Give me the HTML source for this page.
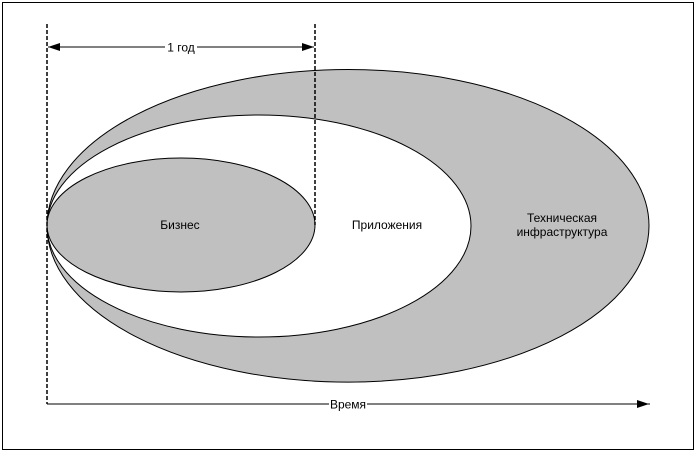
<!DOCTYPE html>
<html><head><meta charset="utf-8"><style>
body{margin:0;background:#fff}
svg{display:block}
text{font-family:"Liberation Sans",Arial,sans-serif;font-size:12px;fill:#000}
</style></head><body>
<svg width="696" height="451" viewBox="0 0 696 451" xmlns="http://www.w3.org/2000/svg">
<rect x="2.5" y="2.5" width="691" height="447" fill="#fff" stroke="#000" stroke-width="1"/>
<ellipse cx="348" cy="225.8" rx="301" ry="156.3" fill="#c0c0c0" stroke="#000" stroke-width="1"/>
<ellipse cx="259" cy="226" rx="212" ry="111" fill="#fff" stroke="#000" stroke-width="1"/>
<ellipse cx="181" cy="225" rx="134" ry="67" fill="#c0c0c0" stroke="#000" stroke-width="1"/>
<line x1="47" y1="24" x2="47" y2="404" stroke="#000" stroke-width="1.5" stroke-dasharray="4,2"/>
<line x1="315" y1="24" x2="315" y2="225" stroke="#000" stroke-width="1.5" stroke-dasharray="4,2"/>
<line x1="48" y1="47" x2="165" y2="47" stroke="#000"/>
<line x1="197" y1="47" x2="314" y2="47" stroke="#000"/>
<polygon points="48,47 60,43 60,51" fill="#000"/>
<polygon points="314,47 302,43 302,51" fill="#000"/>
<text x="181" y="51.5" text-anchor="middle">1 год</text>
<line x1="47" y1="404" x2="329" y2="404" stroke="#000"/>
<line x1="367" y1="404" x2="650" y2="404" stroke="#000"/>
<polygon points="649,404 637,400 637,408" fill="#000"/>
<text x="348" y="408.5" text-anchor="middle">Время</text>
<text x="180" y="229" text-anchor="middle">Бизнес</text>
<text x="387" y="229" text-anchor="middle">Приложения</text>
<text x="562" y="222" text-anchor="middle">Техническая</text>
<text x="562" y="236" text-anchor="middle">инфраструктура</text>
</svg>
</body></html>
